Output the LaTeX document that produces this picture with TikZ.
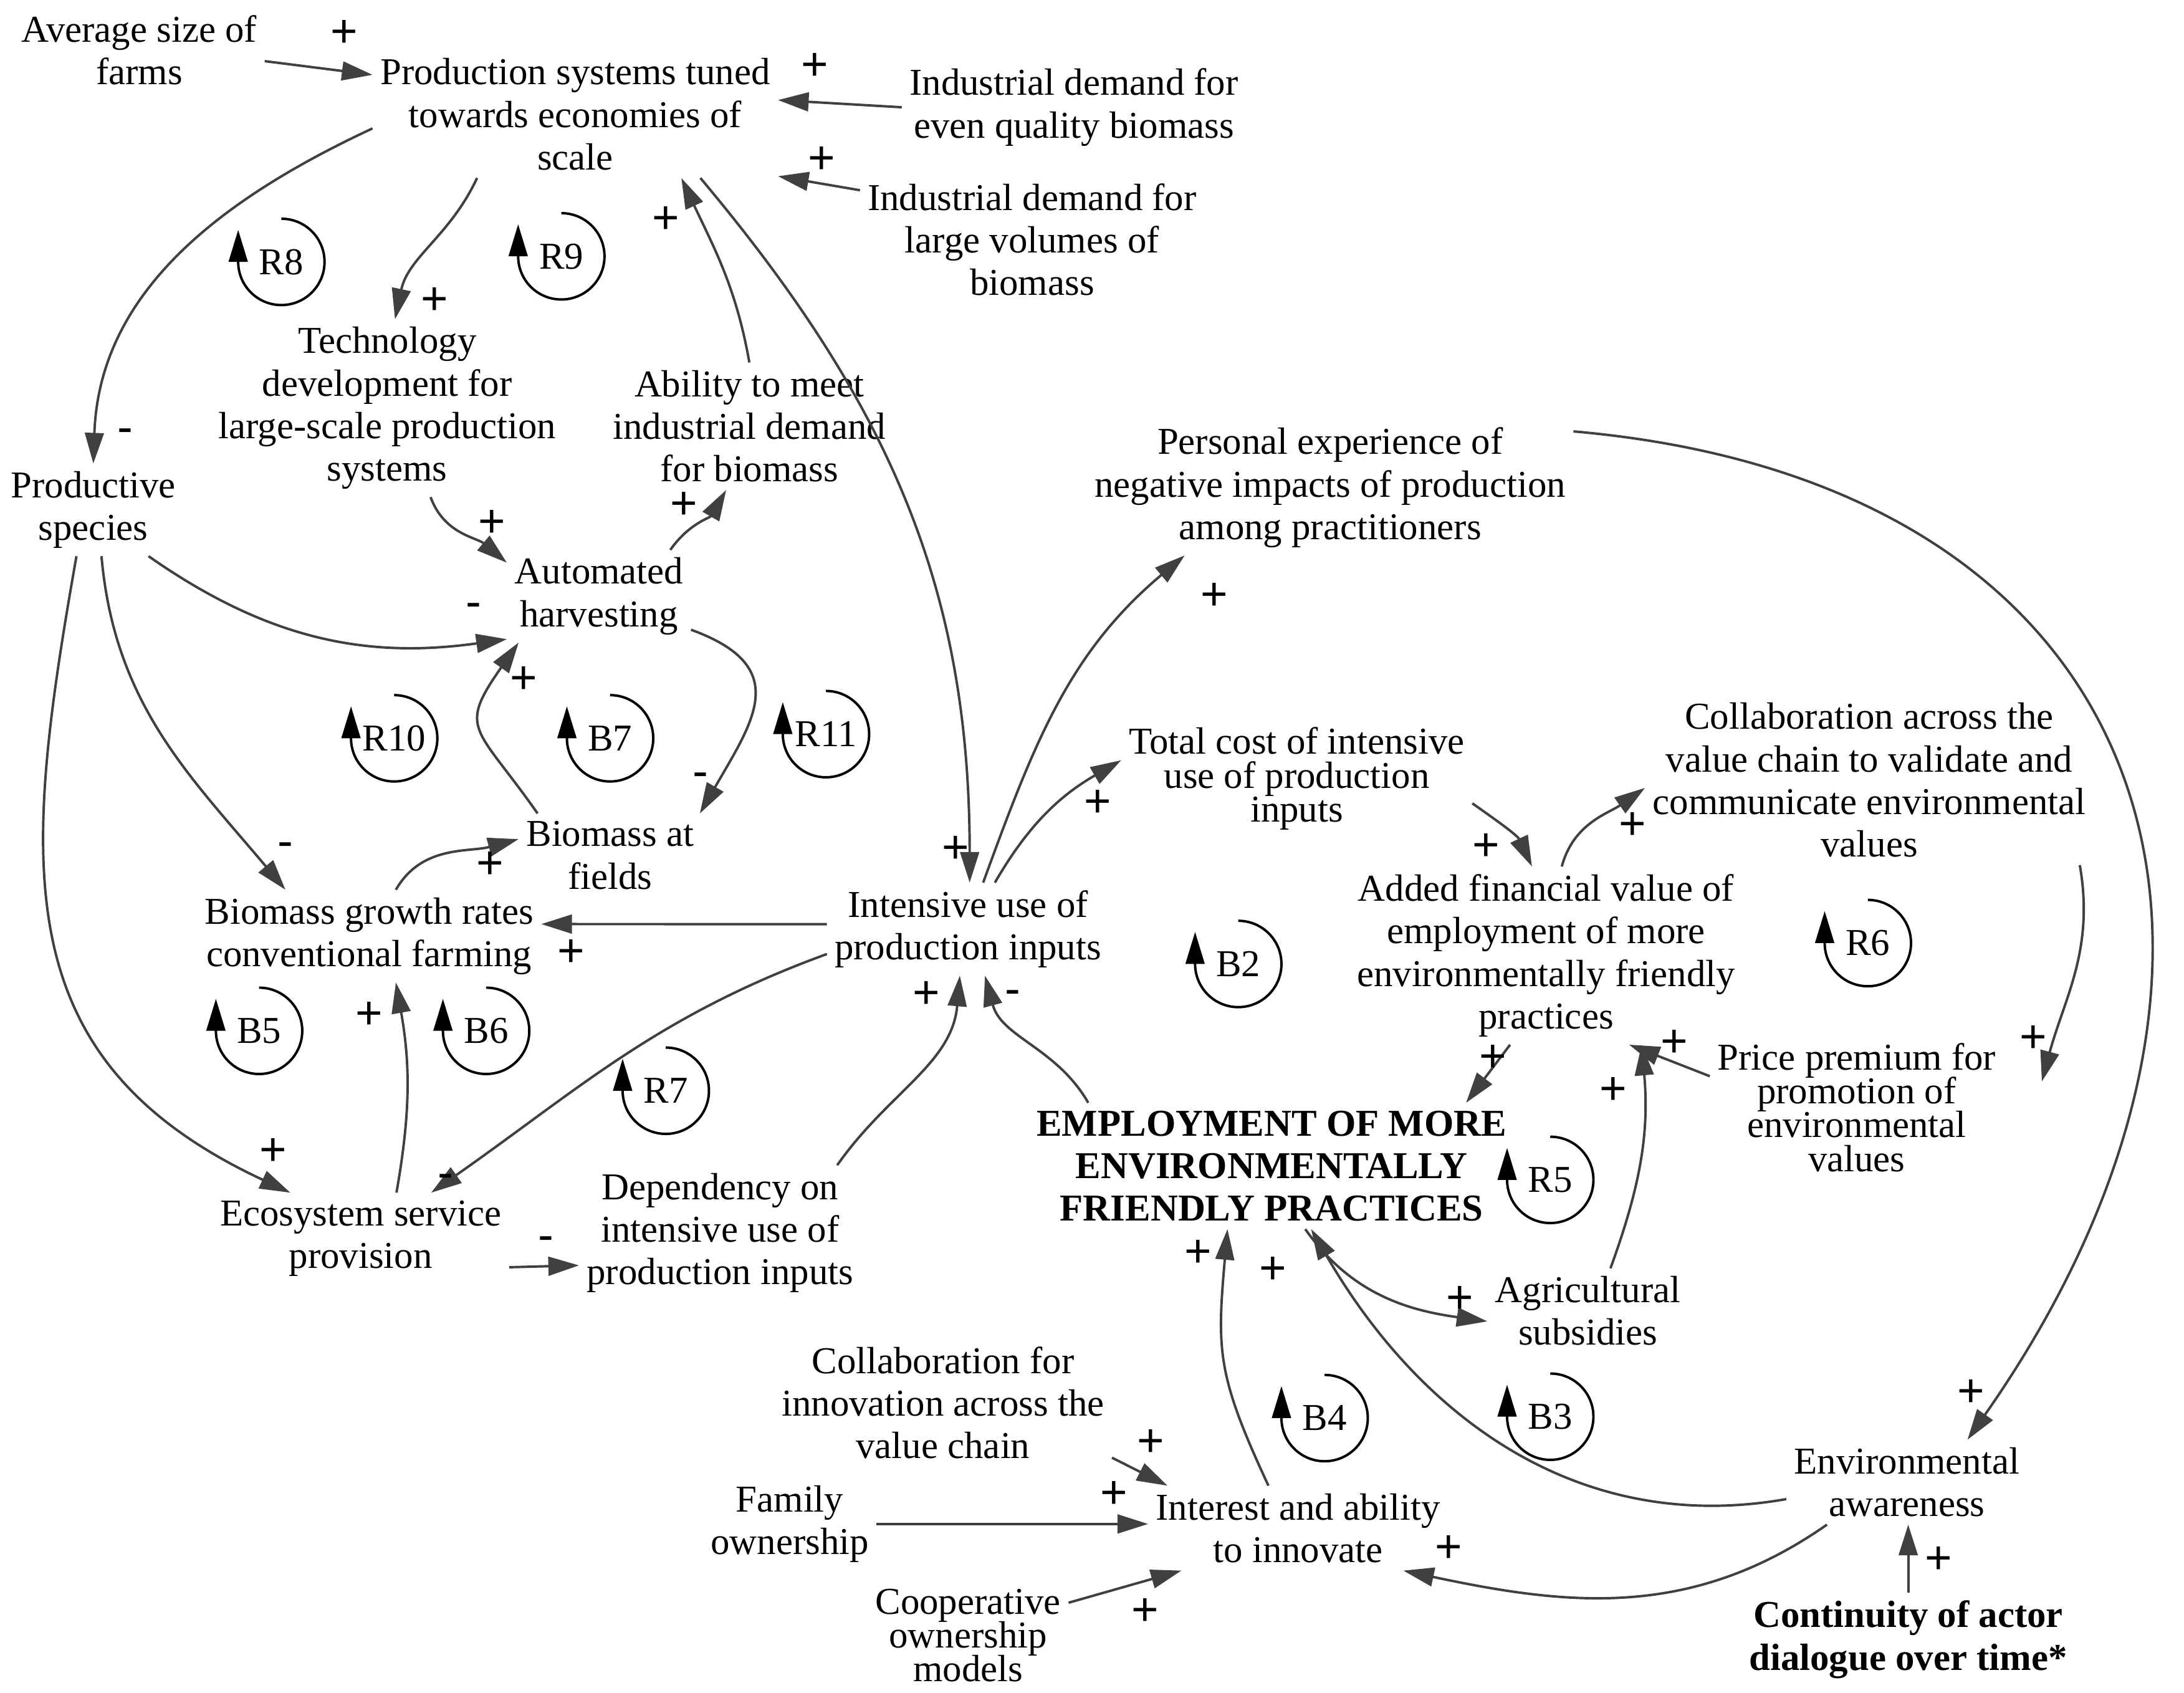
\documentclass[tikz,border=0pt]{standalone}
\usepackage{fontspec}
\setmainfont{Liberation Serif}
\newfontfamily\signfont{Liberation Sans}
\usetikzlibrary{arrows.meta}
\newcommand\tightlines{\fontsize{15.5}{13.8}\selectfont\lineskiplimit=-20pt\relax}

\tikzset{
  var/.style={align=center,inner sep=3pt,font=\fontsize{15.5}{17.4}\selectfont},
  tight/.style={font=\tightlines},
  keyvar/.style={var,font=\fontsize{15.5}{17.4}\selectfont\bfseries},
  link/.style={draw=black!75,line width=1pt,-{Triangle[length=0.44cm,width=0.27cm]}},
  sign/.style={inner sep=0pt,font=\signfont\fontsize{19}{19}\selectfont},
  loopline/.style={draw=black,line width=1pt,-{Triangle[length=0.46cm,width=0.27cm]}},
  loopmark/.pic={
    \draw[loopline] (90:0.62cm) arc[start angle=90,end angle=-180,radius=0.62cm] -- ++(0pt,0.46cm);
    \node[var,inner sep=0pt] at (0pt,0pt) {#1};
  }
}

\begin{document}
\begin{tikzpicture}[x=0.02cm,y=-0.02cm]
\useasboundingbox (0,0) rectangle (1568,1215);

\node[var] (avgsize) at (100,36) {Average size of\\farms};
\node[var] (prodsys) at (413,82) {Production systems tuned\\towards economies of\\scale};
\node[var] (inddemand1) at (771,77) {Industrial demand for\\even quality biomass};
\node[var] (inddemand2) at (741,172) {Industrial demand for\\large volumes of\\biomass};
\node[var] (tech) at (278,293) {Technology\\development for\\large-scale production\\systems};
\node[var] (ability) at (538,306) {Ability to meet\\industrial demand\\for biomass};
\node[var] (prodspecies) at (67,366) {Productive\\species};
\node[var] (automated) at (430,428) {Automated\\harvesting};
\node[var] (personal) at (955,350) {Personal experience of\\negative impacts of production\\among practitioners};
\node[var,tight] (totalcost) at (931,559) {Total cost of intensive\\use of production\\inputs};
\node[var] (collabvc) at (1342,560) {Collaboration across the\\value chain to validate and\\communicate environmental\\values};
\node[var] (biomassfields) at (438,614) {Biomass at\\fields};
\node[var] (intensive) at (695,667) {Intensive use of\\production inputs};
\node[var] (growth) at (265,672) {Biomass growth rates\\conventional farming};
\node[var] (addedvalue) at (1110,686) {Added financial value of\\employment of more\\environmentally friendly\\practices};
\node[var,tight] (pricepremium) at (1333,795) {Price premium for\\promotion of\\environmental\\values};
\node[keyvar] (employment) at (913,837) {EMPLOYMENT OF MORE\\ENVIRONMENTALLY\\FRIENDLY PRACTICES};
\node[var] (ecosystem) at (259,889) {Ecosystem service\\provision};
\node[var] (dependency) at (517,885) {Dependency on\\intensive use of\\production inputs};
\node[var] (agri) at (1140,941) {Agricultural\\subsidies};
\node[var] (collabinno) at (677,1007) {Collaboration for\\innovation across the\\value chain};
\node[var] (family) at (567,1094) {Family\\ownership};
\node[var] (interest) at (932,1097) {Interest and ability\\to innovate};
\node[var,tight] (coop) at (695,1174) {Cooperative\\ownership\\models};
\node[var] (envaware) at (1369,1064) {Environmental\\awareness};
\node[keyvar] (continuity) at (1370,1177) {Continuity of actor\\dialogue over time*};

\draw[link] (avgsize.-5) -- (prodsys.169);
\draw[link] (inddemand1.west) -- (prodsys.4);
\draw[link] (inddemand2.164) -- (prodsys.-17);
\draw[link] (prodsys.184) to[out=205,in=88] (prodspecies.north);
\draw[link] (prodsys.213) to[out=245,in=78] (tech.85);
\draw[link] (ability.north) to[out=100,in=-65] (prodsys.-31);
\draw[link] (prodsys.-27) to[out=-50,in=90] (intensive.88);
\draw[link] (tech.-64) to[out=-70,in=140] (automated.160);
\draw[link] (automated.33) to[out=55,in=-120] (ability.-110);
\draw[link] (prodspecies.-40) to[out=-35,in=188] (automated.205);
\draw[link] (prodspecies.-80) to[out=-85,in=130] (growth.151);
\draw[link] (prodspecies.-110) to[out=-100,in=155,looseness=1.2] (ecosystem.147);
\draw[link] (automated.-20) to[out=-20,in=60,looseness=1.5] (biomassfields.25);
\draw[link] (biomassfields.150) to[out=125,in=-125,looseness=1.6] (automated.210);
\draw[link] (growth.60) to[out=60,in=195] (biomassfields.170);
\draw[link] (intensive.178) -- (growth.4);
\draw[link] (ecosystem.52) to[out=80,in=-80] (growth.-60);
\draw[link] (intensive.190) to[out=200,in=35] (ecosystem.33);
\draw[link] (dependency.30) to[out=55,in=-95] (intensive.-100);
\draw[link] (ecosystem.-11) -- (dependency.193);
\draw[link] (employment.161) to[out=120,in=-75] (intensive.-70);
\draw[link] (intensive.72) to[out=70,in=-140] (personal.205);
\draw[link] (intensive.60) to[out=60,in=210] (totalcost.174);
\draw[link] (totalcost.-8) to[out=-35,in=115] (addedvalue.99);
\draw[link] (addedvalue.80) to[out=75,in=215] (collabvc.182);
\draw[link] (collabvc.-22) to[out=-80,in=75] ([xshift=0.55cm]pricepremium.10);
\draw[link] (pricepremium.168) -- (addedvalue.-47);
\draw[link] (addedvalue.-112) -- (employment.18);
\draw[link] (personal.13) to[out=-5,in=55,looseness=1.4] (envaware.35);
\draw[link] (agri.62) to[out=70,in=-85] (addedvalue.-43);
\draw[link] (employment.-62) to[out=-55,in=172] (agri.186);
\draw[link] (interest.125) to[out=115,in=-95,looseness=1.2] (employment.-125);
\draw[link] (envaware.188) to[out=190,in=-60] (employment.-58);
\draw[link] (envaware.-152) to[out=-145,in=-12] (interest.-22);
\draw[link] (collabinno.-18) -- (interest.162);
\draw[link] (family.east) -- (family.east -| interest.west);
\draw[link] (coop.18) -- (interest.200);
\draw[link] (continuity.north) -- (continuity.north |- envaware.south);

\foreach \x/\y/\s [count=\i] in {247/24/+,585/48/+,590/115/+,90/313/-,312/216/+,478/158/+,
  686/610/+,353/376/+,491/363/+,340/438/-,205/610/-,196/827/+,503/560/-,376/488/+,
  352/621/+,410/684/+,265/729/+,320/848/-,665/714/+,392/893/-,727/716/-,872/428/+,
  788/577/+,1067/608/+,1172/593/+,1460/746/+,1202/749/+,1072/760/+,1415/1000/+,
  1158/783/+,1048/933/+,860/900/+,914/912/+,1040/1112/+,826/1036/+,800/1073/+,
  822/1157/+,1392/1120/+}
  \node[sign] (sg\i) at (\x,\y) {\s};

\foreach \x/\y/\l in {202/188/R8,403/184/R9,283/530/R10,438/530/B7,593/527/R11,
  889/692/B2,1341/677/R6,186/740/B5,349/740/B6,478/783/R7,1113/847/R5,
  951/1018/B4,1113/1017/B3}
  \pic at (\x,\y) {loopmark=\l};
\end{tikzpicture}
\end{document}
